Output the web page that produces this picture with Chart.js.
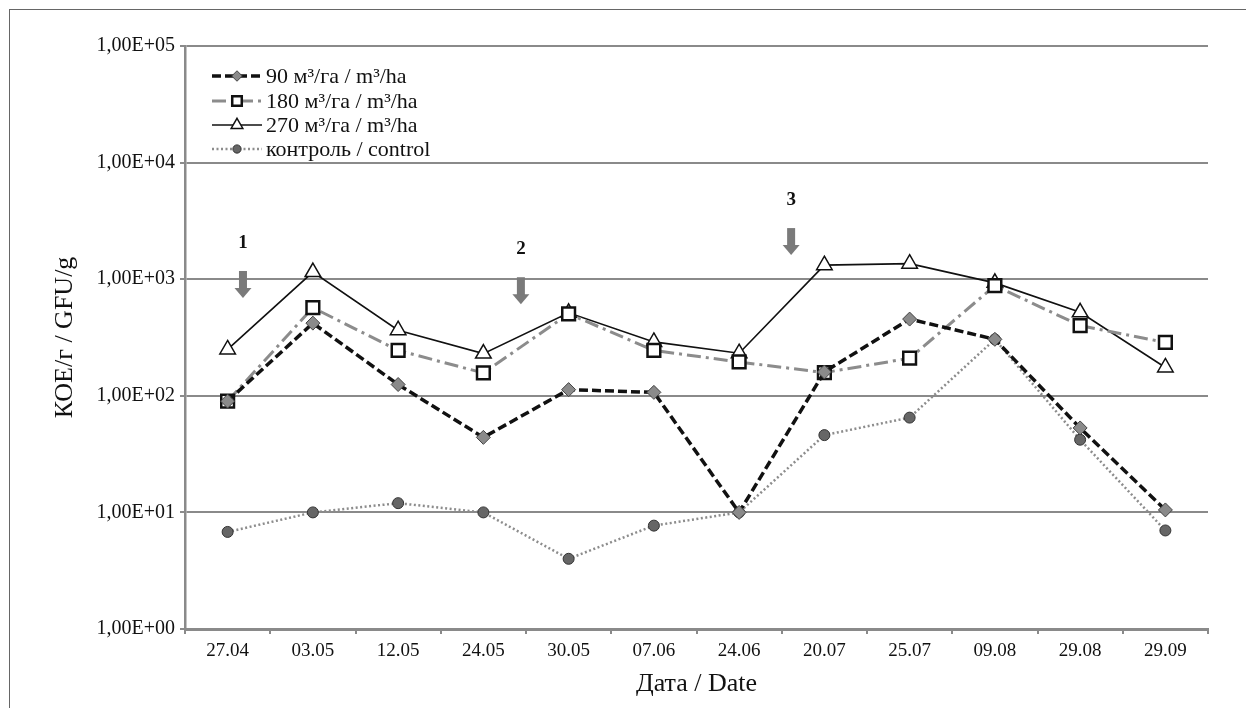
<!DOCTYPE html>
<html>
<head>
<meta charset="utf-8">
<script src="https://cdn.jsdelivr.net/npm/chart.js@4.4.1/dist/chart.umd.min.js"></script>
<style>
    html, body { margin: 0; padding: 0; background: #fff; }
    .wrap { position: relative; width: 1246px; height: 708px; overflow: hidden; }
    .frame { position: absolute; left: 9px; top: 9px; right: -2px; bottom: -2px; border-top: 1.5px solid #666; border-left: 1.5px solid #666; }
    canvas { position: absolute; left: 0; top: 0; }
</style>
</head>
<body>
<div class="wrap">
    <div class="frame"></div>
    <canvas id="chart" width="1246" height="708"></canvas>
</div>
<script>
// dates of sampling
const categories = ['27.04', '03.05', '12.05', '24.05', '30.05', '07.06', '24.06', '20.07', '25.07', '09.08', '29.08', '29.09'];

// KOE/g per dose
const dose90 = [90, 420, 125, 44, 113, 107, 10, 160, 455, 305, 53, 10.5];
const dose180 = [90, 570, 245, 157, 505, 245, 195, 158, 210, 880, 400, 287];
const dose270 = [250, 1150, 365, 230, 515, 290, 232, 1320, 1360, 930, 520, 175];
const control = [6.8, 10, 12, 10, 4.0, 7.7, 10, 46, 65, 305, 42, 7.0];

// y axis ticks
const yTickValues = [1, 10, 100, 1000, 10000, 100000];
const yTickLabels = ['1,00E+00', '1,00E+01', '1,00E+02', '1,00E+03', '1,00E+04', '1,00E+05'];

// treatment arrows: position as category index, tip value, label
const arrowAt = [0.18, 3.44, 6.61];
const arrowTip = [690, 610, 1610];
const arrowLabels = ['1', '2', '3'];

const FONT = "'Liberation Serif', 'DejaVu Serif', serif";
const GRID = '#8a8a8a';

const legendPlugin = {
    id: 'sampleLegend',
    afterDraw(chart) {
        const ctx = chart.ctx;
        const x0 = 212, x1 = 262, textX = 266;
        const rows = [76, 101, 125, 149];
        chart.data.datasets.forEach((ds, i) => {
            const y = rows[i];
            ctx.save();
            ctx.strokeStyle = ds.borderColor;
            ctx.lineWidth = ds.borderWidth;
            ctx.setLineDash(ds.borderDash || []);
            ctx.beginPath();
            ctx.moveTo(x0, y);
            ctx.lineTo(x1, y);
            ctx.stroke();
            ctx.setLineDash([]);
            ctx.fillStyle = ds.pointBackgroundColor;
            ctx.strokeStyle = ds.pointBorderColor;
            ctx.lineWidth = ds.pointBorderWidth;
            Chart.helpers.drawPoint(ctx, {
                pointStyle: ds.pointStyle,
                radius: ds.pointRadius * 0.75,
                rotation: 0,
                borderWidth: ds.pointBorderWidth
            }, (x0 + x1) / 2, y);
            ctx.fillStyle = '#111';
            ctx.font = '22px ' + FONT;
            ctx.textBaseline = 'middle';
            ctx.fillText(ds.label, textX, y + 1);
            ctx.restore();
        });
    }
};

const arrowPlugin = {
    id: 'arrows',
    afterDatasetsDraw(chart) {
        const ctx = chart.ctx;
        const xs = chart.scales.x, ys = chart.scales.y;
        ctx.save();
        arrowAt.forEach((pos, i) => {
            const x = xs.getPixelForValue(pos);
            const tip = ys.getPixelForValue(arrowTip[i]);
            const top = tip - 27;
            ctx.fillStyle = '#7a7a7a';
            ctx.fillRect(x - 4, top, 8, 18);
            ctx.beginPath();
            ctx.moveTo(x - 8.5, top + 17);
            ctx.lineTo(x + 8.5, top + 17);
            ctx.lineTo(x, tip);
            ctx.closePath();
            ctx.fill();
            ctx.fillStyle = '#111';
            ctx.font = 'bold 19px ' + FONT;
            ctx.textAlign = 'center';
            ctx.textBaseline = 'middle';
            ctx.fillText(arrowLabels[i], x, top - 28);
        });
        ctx.restore();
    }
};

new Chart(document.getElementById('chart'), {
    type: 'line',
    data: {
        labels: categories,
        datasets: [
            {
                label: '90 м³/га / m³/ha',
                data: dose90,
                borderColor: '#111',
                borderWidth: 3.5,
                borderDash: [9, 4],
                pointStyle: 'rectRot',
                pointRadius: 7,
                pointBackgroundColor: '#8a8a8a',
                pointBorderColor: '#444',
                pointBorderWidth: 1
            },
            {
                label: '180 м³/га / m³/ha',
                data: dose180,
                borderColor: '#8c8c8c',
                borderWidth: 3,
                borderDash: [14, 5, 3, 5],
                pointStyle: 'rect',
                pointRadius: 9,
                pointBackgroundColor: '#fff',
                pointBorderColor: '#111',
                pointBorderWidth: 2.5
            },
            {
                label: '270 м³/га / m³/ha',
                data: dose270,
                borderColor: '#111',
                borderWidth: 1.6,
                pointStyle: 'triangle',
                pointRadius: 9,
                pointBackgroundColor: '#fff',
                pointBorderColor: '#111',
                pointBorderWidth: 1.5
            },
            {
                label: 'контроль / control',
                data: control,
                borderColor: '#8c8c8c',
                borderWidth: 2.5,
                borderDash: [2, 2.5],
                pointStyle: 'circle',
                pointRadius: 5.5,
                pointBackgroundColor: '#666',
                pointBorderColor: '#333',
                pointBorderWidth: 1
            }
        ]
    },
    options: {
        responsive: false,
        animation: false,
        events: [],
        layout: { padding: { left: 10, right: 38, top: 46, bottom: 0 } },
        plugins: { legend: { display: false }, tooltip: { enabled: false } },
        scales: {
            x: {
                offset: true,
                afterFit: (scale) => { scale.height = 79; },
                grid: { drawOnChartArea: false, offset: true, tickLength: 5, color: GRID, lineWidth: 2 },
                border: { color: GRID, width: 3 },
                ticks: { color: '#111', padding: 6, font: { family: FONT, size: 19 }, maxRotation: 0 },
                title: { display: true, text: 'Дата / Date', color: '#111', font: { family: FONT, size: 26 }, padding: { top: 0, bottom: 8 } }
            },
            y: {
                type: 'logarithmic',
                min: 1,
                max: 100000,
                afterFit: (scale) => { scale.width = 175; },
                afterBuildTicks: (scale) => { scale.ticks = yTickValues.map(v => ({ value: v })); },
                grid: { tickLength: 5, color: GRID, lineWidth: 2 },
                border: { color: GRID, width: 2.5 },
                ticks: {
                    color: '#111',
                    padding: 5,
                    font: { family: FONT, size: 20 },
                    callback: (value) => yTickLabels[yTickValues.indexOf(value)]
                },
                title: { display: true, text: 'КОЕ/г / GFU/g', color: '#111', font: { family: FONT, size: 26 }, padding: { top: 40, bottom: 0 } }
            }
        }
    },
    plugins: [legendPlugin, arrowPlugin]
});
</script>
</body>
</html>
